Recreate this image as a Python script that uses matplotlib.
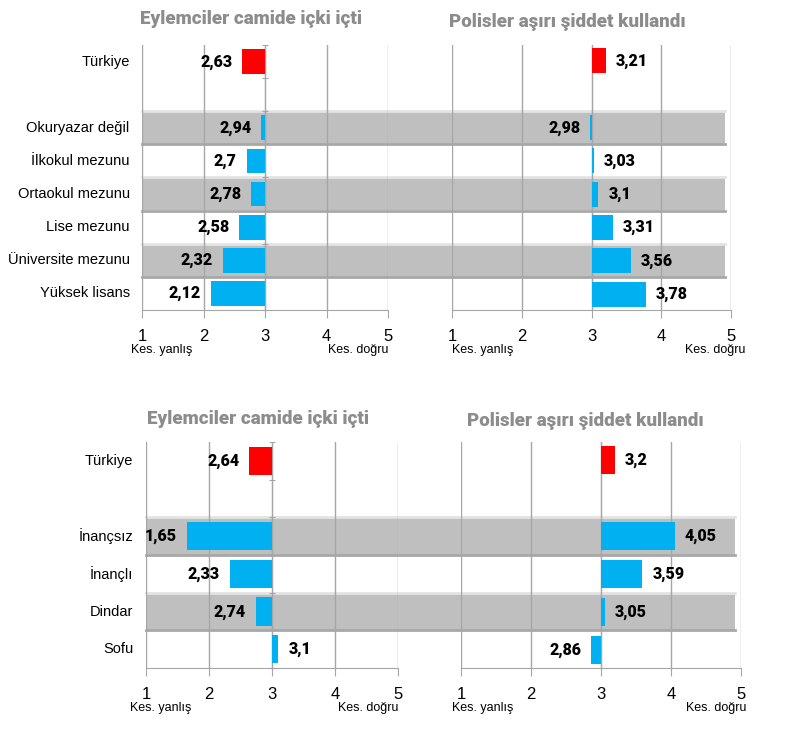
import numpy as np
import matplotlib
matplotlib.use('Agg')
import matplotlib.pyplot as plt
import matplotlib.transforms as mtrans
from matplotlib.patches import Rectangle
from matplotlib.lines import Line2D

plt.rcParams['font.family'] = ['Liberation Sans', 'DejaVu Sans']

# --- data ---
top_labels = ["Türkiye", "Okuryazar değil", "İlkokul mezunu", "Ortaokul mezunu",
              "Lise mezunu", "Üniversite mezunu", "Yüksek lisans"]
top_cami = [2.63, 2.94, 2.70, 2.78, 2.58, 2.32, 2.12]
top_polis = [3.21, 2.98, 3.03, 3.10, 3.31, 3.56, 3.78]

bot_labels = ["Türkiye", "İnançsız", "İnançlı", "Dindar", "Sofu"]
bot_cami = [2.64, 1.65, 2.33, 2.74, 3.10]
bot_polis = [3.20, 4.05, 3.59, 3.05, 2.86]

title_cami = "Eylemciler camide içki içti"
title_polis = "Polisler aşırı şiddet kullandı"
xticks = [1, 2, 3, 4, 5]

RED = '#FF0000'
BLUE = '#00B0F0'
BAND = '#BFBFBF'
GRID = '#A6A6A6'
TITLE = '#8C8C8C'
HEAVY = ['Roboto', 'DejaVu Sans']


def fmt(v):
    return ('%g' % v).replace('.', ',')


def rows_for(labels):
    # first row is Türkiye, then a one row gap
    return [0] + [i + 2 for i in range(len(labels) - 1)]


def panel(ax, labels, vals, left_side):
    rows = rows_for(labels)
    ax.set_xlim(1, 5)
    ax.set_ylim(rows[-1] + 0.48, -0.48)
    ax.patch.set_visible(False)
    ax.set_axisbelow(True)
    ax.grid(axis='x', color=GRID, lw=1)
    ax.grid(axis='y', visible=False)
    ax.set_xticks(xticks)
    ax.tick_params(axis='x', direction='out', length=6, color=GRID,
                   labelsize=12, pad=8)
    for s in ['top', 'right']:
        ax.spines[s].set_visible(False)
    ax.spines['bottom'].set_color(GRID)
    ax.spines['left'].set_position(('data', 3))
    ax.spines['left'].set_color(GRID)
    if left_side:
        ax.set_yticks(np.arange(-0.5, rows[-1] + 0.6, 1.0))
        ax.tick_params(axis='y', direction='inout', length=4, color=GRID, labelleft=False)
    else:
        ax.set_yticks([])
    colors = [RED] + [BLUE] * (len(vals) - 1)
    ax.barh(rows, np.array(vals) - 3, left=3, height=0.75, color=colors, zorder=3)
    for r, v in zip(rows, vals):
        off, ha = (-10, 'right') if v < 3 else (10, 'left')
        ax.annotate(fmt(v), (v, r), xytext=(off, 0), textcoords='offset pixels',
                    ha=ha, va='center', fontsize=11.5, fontweight='black',
                    family=HEAVY, zorder=4)
    if left_side:
        for r, lab in zip(rows, labels):
            ax.text(0.8, r, lab, ha='right', va='center', fontsize=10.5, clip_on=False)
    return rows


def bands(fig, axl, axr, rows):
    pl = axl.get_position()
    pr = axr.get_position()
    x0 = pl.x0
    x1 = pr.x0 + pr.width * (4.91 - 1) / 4
    tr = mtrans.blended_transform_factory(fig.transFigure, axl.transData)
    for r in rows[1::2]:
        axl.add_patch(Rectangle((x0, r - 0.49), x1 - x0, 0.98, transform=tr,
                                facecolor=BAND, edgecolor='none', clip_on=False, zorder=0.2))
        axl.add_line(Line2D([x0, x1], [r - 0.5, r - 0.5], transform=tr, color='#E4E4E4',
                            lw=2, clip_on=False, zorder=0.25))
        axl.add_line(Line2D([x0, x1], [r + 0.5, r + 0.5], transform=tr, color='#A8A8A8',
                            lw=2, clip_on=False, zorder=0.25))


def side_labels(ax, offs):
    ax.annotate('Kes. yanlış', (1, 0), xycoords=('data', 'axes fraction'),
                xytext=(offs[0], -40), textcoords='offset pixels', ha='left',
                va='center', fontsize=9)
    ax.annotate('Kes. doğru', (5, 0), xycoords=('data', 'axes fraction'),
                xytext=(offs[1], -40), textcoords='offset pixels', ha='right',
                va='center', fontsize=9)


fig = plt.figure(figsize=(8, 7.41), dpi=100)

ax1 = fig.add_axes([142 / 800, 1 - 310 / 741, 246 / 800, 265 / 741])
ax2 = fig.add_axes([452 / 800, 1 - 310 / 741, 279 / 800, 265 / 741])
ax3 = fig.add_axes([146 / 800, 1 - 668 / 741, 252 / 800, 226 / 741])
ax4 = fig.add_axes([461 / 800, 1 - 668 / 741, 280 / 800, 226 / 741])

r_top = panel(ax1, top_labels, top_cami, True)
panel(ax2, top_labels, top_polis, False)
r_bot = panel(ax3, bot_labels, bot_cami, True)
panel(ax4, bot_labels, bot_polis, False)

bands(fig, ax1, ax2, r_top)
bands(fig, ax3, ax4, r_bot)

side_labels(ax1, (-11, 0))
side_labels(ax2, (0, 14))
side_labels(ax3, (-16, 0))
side_labels(ax4, (-9, 5))

tkw = dict(ha='center', va='center', fontsize=13.5, fontweight='black', color=TITLE,
           family=HEAVY)
fig.text(251 / 800, 1 - 19 / 741, title_cami, **tkw)
fig.text(567 / 800, 1 - 22 / 741, title_polis, **tkw)
fig.text(258 / 800, 1 - 419 / 741, title_cami, **tkw)
fig.text(585 / 800, 1 - 421 / 741, title_polis, **tkw)

fig.savefig('out.png', dpi=100)
